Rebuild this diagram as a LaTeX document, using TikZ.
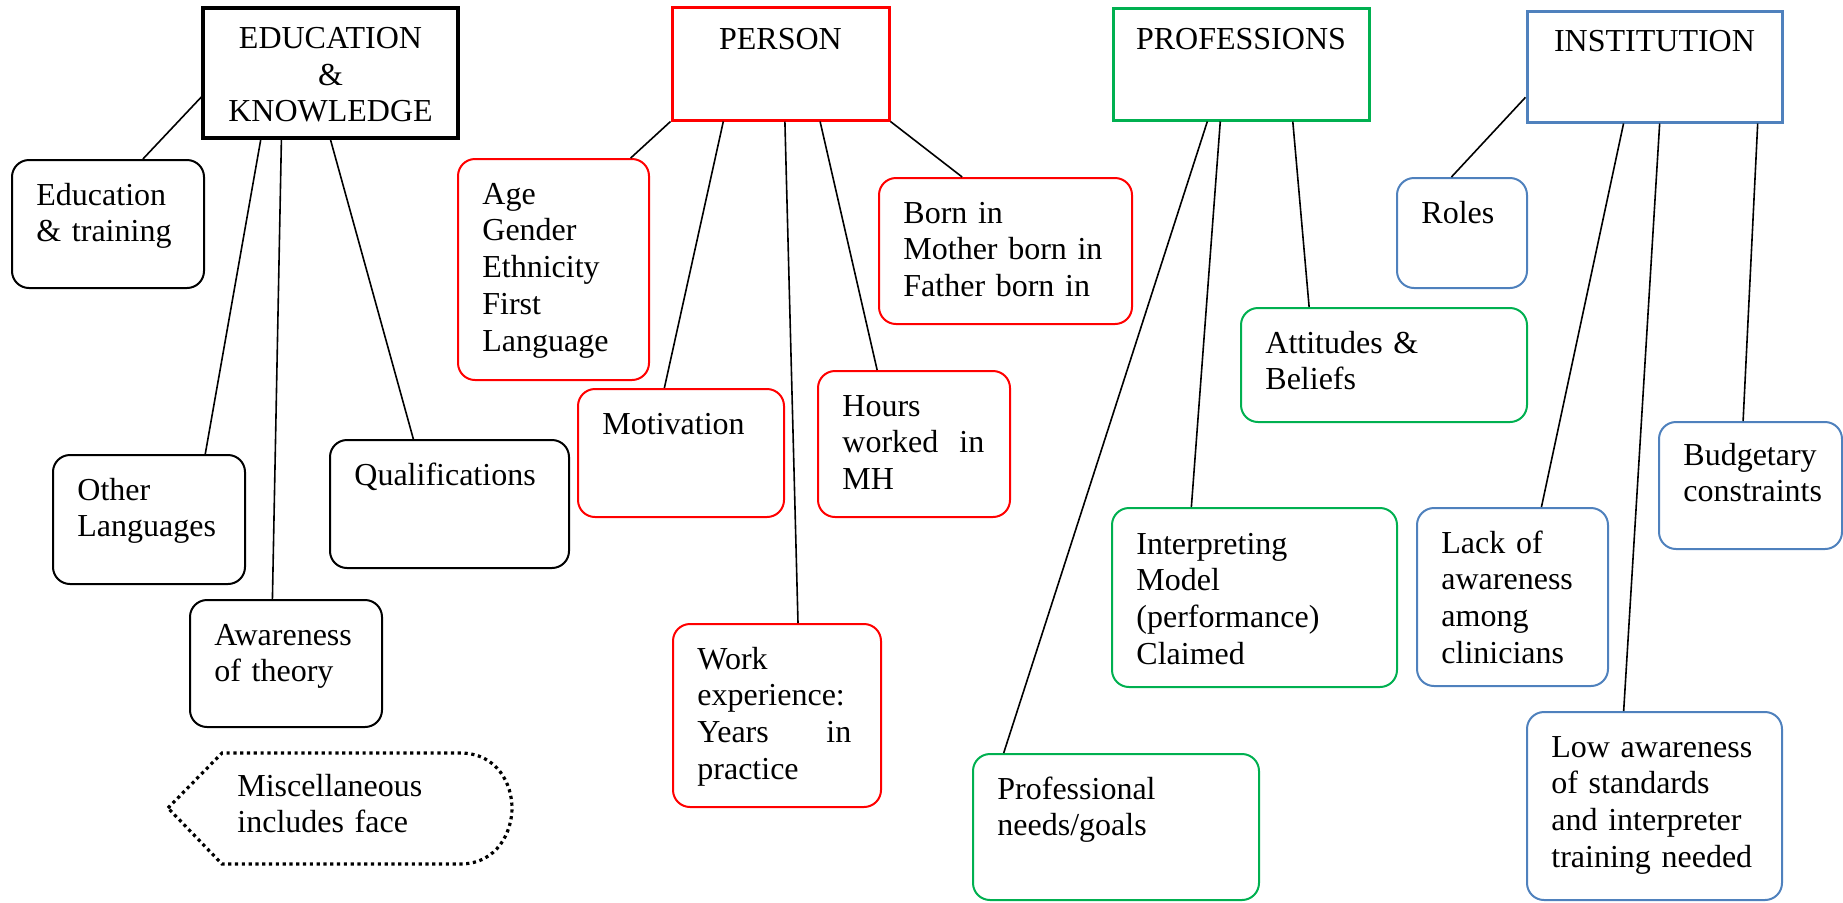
\documentclass[tikz,border=0pt]{standalone}
\usepackage{fontspec}
\setmainfont{Liberation Serif}
\usepackage{tikz}
\usetikzlibrary{
  positioning,
  calc,
  fit
}
\definecolor{myRed}{HTML}{FF0000}
\definecolor{myGreen}{HTML}{00B050}
\definecolor{myBlue}{HTML}{4F81BD}
\tikzstyle{headbox}=[draw, line width=1.5pt, inner sep=0pt]
\tikzstyle{itembox}=[draw, line width=1pt, rounded corners=8.5pt, inner sep=0pt]
\tikzstyle{headtext}=[anchor=base, inner sep=0pt, align=center, text width=120pt]
\tikzstyle{itemtext}=[anchor=base west, inner sep=0pt, align=left, text width=120pt]
\tikzstyle{link}=[line width=0.8pt]
\tikzstyle{dotline}=[line width=1.6pt, dash pattern=on 1.6pt off 1.8pt]

\begin{document}
\begin{tikzpicture}[x=0.5pt, y=-0.5pt, font=\fontsize{16}{18.4}\selectfont]
      \useasboundingbox (0,0) rectangle (1843,902);

      % 見出しの枠
      \node[headbox, line width=1.7pt, fit={(203,8) (458,138)}] (edu) {};
      \node[headbox, draw=myRed, fit={(672,7) (889,120)}] (person) {};
      \node[headbox, draw=myGreen, fit={(1113,8) (1369,120)}] (prof) {};
      \node[headbox, draw=myBlue, fit={(1527,11) (1782,122)}] (inst) {};

      \node[headtext] (eduT) at ($(edu.north)+(0,42)$) {EDUCATION\\\&\\KNOWLEDGE};
      \node[headtext] (personT) at ($(person.north)+(0,44)$) {PERSON};
      \node[headtext] (profT) at ($(prof.north)+(0,43)$) {PROFESSIONS};
      \node[headtext] (instT) at ($(inst.north)+(0,42)$) {INSTITUTION};

      % EDUCATION & KNOWLEDGE の項目
      \node[itembox, fit={(12,160) (204,288)}] (edtrain) {};
      \node[itembox, fit={(53,455) (245,584)}] (othlang) {};
      \node[itembox, fit={(190,600) (382,727)}] (aware) {};
      \node[itembox, fit={(330,440) (569,568)}] (qual) {};

      \node[itemtext] (edtrainT) at ($(edtrain.north west)+(25,46)$) {Education\\\& training};
      \node[itemtext] (othlangT) at ($(othlang.north west)+(25,46)$) {Other\\Languages};
      \node[itemtext] (awareT) at ($(aware.north west)+(25,46)$) {Awareness\\of theory};
      \node[itemtext] (qualT) at ($(qual.north west)+(25,46)$) {Qualifications};

      % PERSON の項目
      \node[itembox, draw=myRed, fit={(458,159) (649,380)}] (age) {};
      \node[itembox, draw=myRed, fit={(578,389) (784,517)}] (motiv) {};
      \node[itembox, draw=myRed, fit={(673,624) (881,807)}] (work) {};
      \node[itembox, draw=myRed, fit={(818,371) (1010,517)}] (hours) {};
      \node[itembox, draw=myRed, fit={(879,178) (1132,324)}] (born) {};

      \node[itemtext] (ageT) at ($(age.north west)+(25,46)$) {Age\\Gender\\Ethnicity\\First\\Language};
      \node[itemtext] (motivT) at ($(motiv.north west)+(25,46)$) {Motivation};
      \node[itemtext, text width=77pt] (workT) at ($(work.north west)+(25,46)$) {Work\\experience:\\Years\hspace{0pt plus 1filll}in\\practice};
      \node[itemtext, text width=71pt] (hoursT) at ($(hours.north west)+(25,46)$) {Hours\\worked\hspace{0pt plus 1filll}in\\MH};
      \node[itemtext] (bornT) at ($(born.north west)+(25,46)$) {Born in\\Mother born in\\Father born in};

      % PROFESSIONS の項目
      \node[itembox, draw=myGreen, fit={(1241,308) (1527,422)}] (attit) {};
      \node[itembox, draw=myGreen, fit={(1112,508) (1397,687)}] (interp) {};
      \node[itembox, draw=myGreen, fit={(973,754) (1259,900)}] (profneed) {};

      \node[itemtext] (attitT) at ($(attit.north west)+(25,46)$) {Attitudes \&\\Beliefs};
      \node[itemtext] (interpT) at ($(interp.north west)+(25,47)$) {Interpreting\\Model\\(performance)\\Claimed};
      \node[itemtext] (profneedT) at ($(profneed.north west)+(25,46)$) {Professional\\needs/goals};

      % INSTITUTION の項目
      \node[itembox, draw=myBlue, fit={(1397,178) (1527,288)}] (roles) {};
      \node[itembox, draw=myBlue, fit={(1417,508) (1608,686)}] (lack) {};
      \node[itembox, draw=myBlue, fit={(1527,712) (1782,900)}] (lowaw) {};
      \node[itembox, draw=myBlue, fit={(1659,422) (1842,549)}] (budget) {};

      \node[itemtext] (rolesT) at ($(roles.north west)+(25,46)$) {Roles};
      \node[itemtext] (lackT) at ($(lack.north west)+(25,46)$) {Lack of\\awareness\\among\\clinicians};
      \node[itemtext] (lowawT) at ($(lowaw.north west)+(25,46)$) {Low awareness\\of standards\\and interpreter\\training needed};
      \node[itemtext] (budgetT) at ($(budget.north west)+(25,44)$) {Budgetary\\constraints};

      % その他（点線の枠）
      \draw[dotline] (168,808) -- (222,753) -- (460,753)
        .. controls (498,753) and (512,785) .. (512,808)
        .. controls (512,831) and (498,864) .. (460,864) -- (222,864) -- cycle;
      \node[itemtext] (miscT) at (237,796) {Miscellaneous\\includes face};

      % 見出しから項目への線
      \draw[link] ($(edu.north west)!0.68!(edu.south west)$) -- ($(edtrain.north west)!0.68!(edtrain.north east)$);
      \draw[link] ($(edu.south west)!0.23!(edu.south east)$) -- ($(othlang.north west)!0.79!(othlang.north east)$);
      \draw[link] ($(edu.south west)!0.31!(edu.south east)$) -- ($(aware.north west)!0.43!(aware.north east)$);
      \draw[link] ($(edu.south west)!0.50!(edu.south east)$) -- ($(qual.north west)!0.35!(qual.north east)$);

      \draw[link] (person.south west) -- ($(age.north west)!0.90!(age.north east)$);
      \draw[link] ($(person.south west)!0.24!(person.south east)$) -- ($(motiv.north west)!0.42!(motiv.north east)$);
      \draw[link] ($(person.south west)!0.52!(person.south east)$) -- ($(work.north west)!0.60!(work.north east)$);
      \draw[link] ($(person.south west)!0.68!(person.south east)$) -- ($(hours.north west)!0.31!(hours.north east)$);
      \draw[link] (person.south east) -- ($(born.north west)!0.33!(born.north east)$);

      \draw[link] ($(prof.south west)!0.37!(prof.south east)$) -- ($(profneed.north west)!0.11!(profneed.north east)$);
      \draw[link] ($(prof.south west)!0.42!(prof.south east)$) -- ($(interp.north west)!0.28!(interp.north east)$);
      \draw[link] ($(prof.south west)!0.70!(prof.south east)$) -- ($(attit.north west)!0.24!(attit.north east)$);

      \draw[link] ($(inst.north west)!0.77!(inst.south west)$) -- ($(roles.north west)!0.42!(roles.north east)$);
      \draw[link] ($(inst.south west)!0.38!(inst.south east)$) -- ($(lack.north west)!0.65!(lack.north east)$);
      \draw[link] ($(inst.south west)!0.52!(inst.south east)$) -- ($(lowaw.north west)!0.38!(lowaw.north east)$);
      \draw[link] ($(inst.south west)!0.90!(inst.south east)$) -- ($(budget.north west)!0.46!(budget.north east)$);
\end{tikzpicture}
\end{document}
